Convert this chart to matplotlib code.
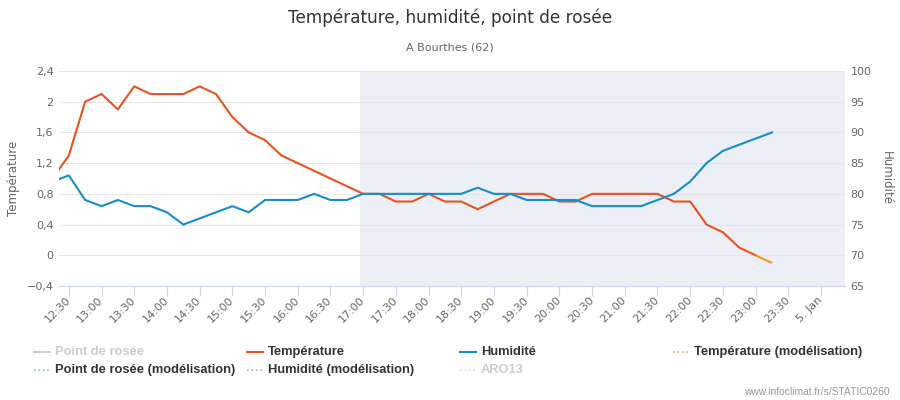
import matplotlib
matplotlib.use("Agg")
import matplotlib.pyplot as plt
from matplotlib.lines import Line2D
from matplotlib import font_manager

# ---------------- data ----------------
times = ["12:15", "12:30", "12:45", "13:00", "13:15", "13:30", "13:45", "14:00", "14:15",
         "14:30", "14:45", "15:00", "15:15", "15:30", "15:45", "16:00", "16:15", "16:30",
         "16:45", "17:00", "17:15", "17:30", "17:45", "18:00", "18:15", "18:30", "18:45",
         "19:00", "19:15", "19:30", "19:45", "20:00", "20:15", "20:30", "20:45", "21:00",
         "21:15", "21:30", "21:45", "22:00", "22:15", "22:30", "22:45", "23:00", "23:15"]
temperature = [1.0, 1.3, 2.0, 2.1, 1.9, 2.2, 2.1, 2.1, 2.1,
               2.2, 2.1, 1.8, 1.6, 1.5, 1.3, 1.2, 1.1, 1.0,
               0.9, 0.8, 0.8, 0.7, 0.7, 0.8, 0.7, 0.7, 0.6,
               0.7, 0.8, 0.8, 0.8, 0.7, 0.7, 0.8, 0.8, 0.8,
               0.8, 0.8, 0.7, 0.7, 0.4, 0.3, 0.1, 0.0, -0.1]
humidity = [82, 83, 79, 78, 79, 78, 78, 77, 75,
            76, 77, 78, 77, 79, 79, 79, 80, 79,
            79, 80, 80, 80, 80, 80, 80, 80, 81,
            80, 80, 79, 79, 79, 79, 78, 78, 78,
            78, 79, 80, 82, 85, 87, 88, 89, 90]
tick_labels = ["12:30", "13:00", "13:30", "14:00", "14:30", "15:00", "15:30", "16:00",
               "16:30", "17:00", "17:30", "18:00", "18:30", "19:00", "19:30", "20:00",
               "20:30", "21:00", "21:30", "22:00", "22:30", "23:00", "23:30", "5. Jan"]
night_start = "16:57"
x_start = "12:21"
x_end = "24:22"
temp_ticks = [-0.4, 0, 0.4, 0.8, 1.2, 1.6, 2.0, 2.4]
hum_ticks = [65, 70, 75, 80, 85, 90, 95, 100]

legend_items = [
    ("Point de rosée", "#cccccc", "-", False),
    ("Température", "#e8531f", "-", True),
    ("Humidité", "#168ccc", "-", True),
    ("Température (modélisation)", "#f2a08c", ":", True),
    ("Point de rosée (modélisation)", "#8ed38e", ":", True),
    ("Humidité (modélisation)", "#8cc3e6", ":", True),
    ("ARO13", "#dddddd", ":", False),
]


def hours(t):
    h, m = t.split(":")
    return int(h) + int(m) / 60.0


x = [hours(t) for t in times]
tick_pos = [hours(t) for t in tick_labels[:-1]] + [24.0]

avail = {f.name for f in font_manager.fontManager.ttflist}
narrow = "Liberation Sans Narrow" if "Liberation Sans Narrow" in avail else "Liberation Sans"

TEMP_C = "#e8531f"
TEMP_C2 = "#f39425"
HUM_C = "#168ccc"
GRID_C = "#e6e6e6"
AXIS_C = "#ccd6eb"
LABEL_C = "#666666"

W, H = 900, 400
fig = plt.figure(figsize=(9, 4), dpi=100)
ax = fig.add_axes([59 / W, 1 - 286 / H, (845 - 59) / W, (286 - 71) / H])
ax2 = ax.twinx()

# night band
ax.axvspan(hours(night_start), hours(x_end), color="#eceff6", zorder=0, lw=0)

# temperature
ax.plot(x[:-1], temperature[:-1], color=TEMP_C, lw=1.5, zorder=3, solid_joinstyle="round")
ax.plot(x[-2:], temperature[-2:], color=TEMP_C2, lw=1.5, zorder=3, solid_capstyle="butt")
# humidity
ax2.plot(x, humidity, color=HUM_C, lw=1.5, zorder=3, solid_joinstyle="round")

ax.set_xlim(hours(x_start), hours(x_end))
ax.set_ylim(-0.4, 2.4)
ax2.set_ylim(65, 100)
ax.set_yticks(temp_ticks)
ax.set_yticklabels(["−0,4" if v < 0 else ("0" if v == 0 else f"{v:g}".replace(".", ",")) for v in temp_ticks])
ax2.set_yticks(hum_ticks)
ax2.set_yticklabels([str(v) for v in hum_ticks])

ax.grid(axis="y", color=GRID_C, lw=0.75, zorder=1)
ax.set_axisbelow(True)

for a in (ax, ax2):
    for s in ("left", "right", "top"):
        a.spines[s].set_visible(False)
    a.spines["bottom"].set_visible(False)
ax.spines["bottom"].set_visible(True)
ax.spines["bottom"].set_color(AXIS_C)
ax.spines["bottom"].set_linewidth(0.8)

ax.tick_params(axis="y", length=0, pad=4, labelsize=8, labelcolor=LABEL_C)
ax2.tick_params(axis="y", length=0, pad=4, labelsize=8, labelcolor=LABEL_C)
ax.set_xticks(tick_pos)
ax.set_xticklabels(tick_labels, rotation=45, ha="right", va="center", rotation_mode="anchor")
ax.tick_params(axis="x", length=7.2, width=0.8, color=AXIS_C, pad=2, labelsize=8, labelcolor=LABEL_C)

# titles
fig.text(450 / W, 1 - 18 / H, "Température, humidité, point de rosée", ha="center", va="center",
         fontsize=12.2, color="#333333")
fig.text(450 / W, 1 - 47 / H, "A Bourthes (62)", ha="center", va="center", fontsize=8, color=LABEL_C)
fig.text(14 / W, 1 - 178 / H, "Température", rotation=90, ha="center", va="center",
         fontsize=8.5, color=LABEL_C)
fig.text(886 / W, 1 - 178 / H, "Humidité", rotation=270, ha="center", va="center",
         fontsize=8.5, color=LABEL_C)

# legend (manual, Highcharts-like grid)
col_x = [34, 247, 460, 673]
row_y = [352, 370]
for i, (lab, col, ls, visible) in enumerate(legend_items):
    cx = col_x[i % 4]
    cy = row_y[i // 4]
    yy = 1 - cy / H
    fig.add_artist(Line2D([cx / W, (cx + 16) / W], [yy, yy], transform=fig.transFigure,
                          color=col, lw=1.5 if ls == "-" else 1.2, linestyle=ls))
    fig.text((cx + 21) / W, yy, lab, ha="left", va="center", fontsize=9.3, fontweight="bold",
             family=[narrow, "DejaVu Sans"], color="#333333" if visible else "#cccccc")

fig.text(890 / W, 1 - 392 / H, "www.infoclimat.fr/s/STATIC0260", ha="right", va="center",
         fontsize=7.4, family=[narrow, "DejaVu Sans"], color="#999999")

fig.savefig("out.png", dpi=100)
